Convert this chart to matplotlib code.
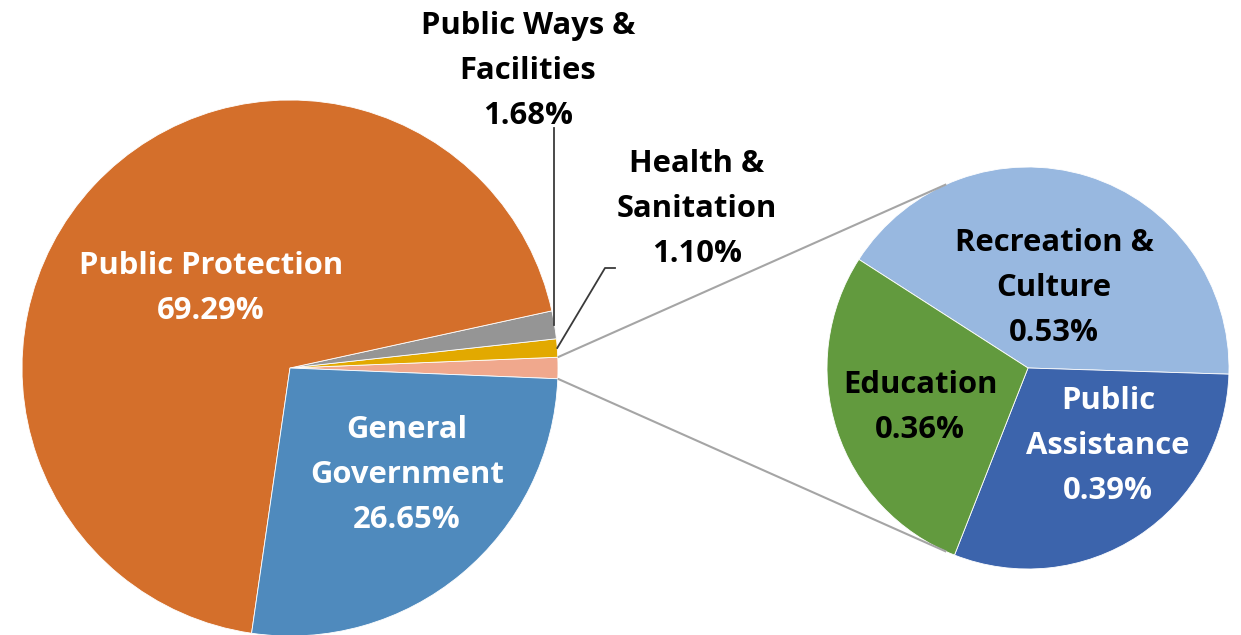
import numpy as np
import matplotlib
matplotlib.use("Agg")
import matplotlib.pyplot as plt

# ---------------- data ----------------
main_names = ["Public Protection", "General Government", "Public Ways & Facilities", "Health & Sanitation"]
main_values = [69.29, 26.65, 1.68, 1.10]
sub_names = ["Recreation & Culture", "Public Assistance", "Education"]
sub_values = [0.53, 0.39, 0.36]

# ---------------- style ----------------
main_colors = {"Public Protection": "#D46F2B", "General Government": "#4F8ABD",
               "Public Ways & Facilities": "#959595", "Health & Sanitation": "#E2A900",
               "Other": "#F0A88D"}
sub_colors = {"Recreation & Culture": "#98B8E0", "Public Assistance": "#3C64AC",
              "Education": "#629A3E"}

W, H = 1241, 635
FONT = "Open Sans"
FS = 22.3
LINE = 45  # px between baselines

fig = plt.figure(figsize=(W / 100, H / 100), dpi=100)
ax = fig.add_axes([0, 0, 1, 1])


def py(y):  # pixel (top-down) -> data (bottom-up)
    return H - y


other_total = sum(sub_values)
order = ["Other", "Health & Sanitation", "Public Ways & Facilities", "Public Protection", "General Government"]
vals = [other_total] + [main_values[main_names.index(n)] for n in order[1:]]
total = sum(vals)

C1 = np.array([290.0, py(368)])
R1 = 268.0
start1 = -other_total / total * 180.0
ax.pie(vals, colors=[main_colors[n] for n in order], startangle=start1, counterclock=True,
       center=tuple(C1), radius=R1, wedgeprops=dict(linewidth=0.6, edgecolor="white"))

C2 = np.array([1028.0, py(368)])
R2 = 201.0
ax.pie(sub_values, colors=[sub_colors[n] for n in sub_names], startangle=147.3, counterclock=False,
       center=tuple(C2), radius=R2, wedgeprops=dict(linewidth=0.6, edgecolor="white"))

# connector lines (tangent from "Other" slice edges to second pie)
half = np.deg2rad(other_total / total * 180.0)
for sgn in (1, -1):
    P = C1 + R1 * np.array([np.cos(sgn * half), np.sin(sgn * half)])
    d = np.linalg.norm(P - C2)
    phi = np.arctan2(P[1] - C2[1], P[0] - C2[0])
    a = np.arccos(R2 / d)
    th = phi - sgn * a
    T = C2 + R2 * np.array([np.cos(th), np.sin(th)])
    ax.plot([P[0], T[0]], [P[1], T[1]], color="#A5A5A5", lw=1.5, solid_capstyle="butt")


# leader lines
def slice_mid_point(name):
    cum = start1
    for n, v in zip(order, vals):
        ang = v / total * 360.0
        if n == name:
            m = np.deg2rad(cum + ang / 2)
            return C1 + R1 * np.array([np.cos(m), np.sin(m)])
        cum += ang


pw = slice_mid_point("Public Ways & Facilities")
ax.plot([pw[0], pw[0]], [pw[1], py(128)], color="#3A3A3A", lw=1.3)
hs = slice_mid_point("Health & Sanitation")
ax.plot([hs[0], 605, 615], [hs[1], py(268), py(268)], color="#3A3A3A", lw=1.3)


def label(lines, x, y0, color):
    for i, t in enumerate(lines):
        ax.text(x, py(y0 + i * LINE), t, ha="center", va="baseline", fontsize=FS,
                fontweight="bold", family=[FONT, "DejaVu Sans"], color=color)


def pct(v):
    return f"{v:.2f}%"


mv = dict(zip(main_names, main_values))
sv = dict(zip(sub_names, sub_values))
label(["Public Protection", pct(mv["Public Protection"])], 211, 274, "white")
label(["General", "Government", pct(mv["General Government"])], 407, 438, "white")
label(["Public Ways &", "Facilities", pct(mv["Public Ways & Facilities"])], 528, 34, "black")
label(["Health &", "Sanitation", pct(mv["Health & Sanitation"])], 697, 172, "black")
label(["Recreation &", "Culture", pct(sv["Recreation & Culture"])], 1054, 251, "black")
label(["Education", pct(sv["Education"])], 920, 393, "black")
label(["Public", "Assistance", pct(sv["Public Assistance"])], 1108, 409, "white")

ax.set_xlim(0, W)
ax.set_ylim(0, H)
ax.set_aspect("equal")
ax.axis("off")
fig.savefig("out.png", dpi=100, facecolor="white")
